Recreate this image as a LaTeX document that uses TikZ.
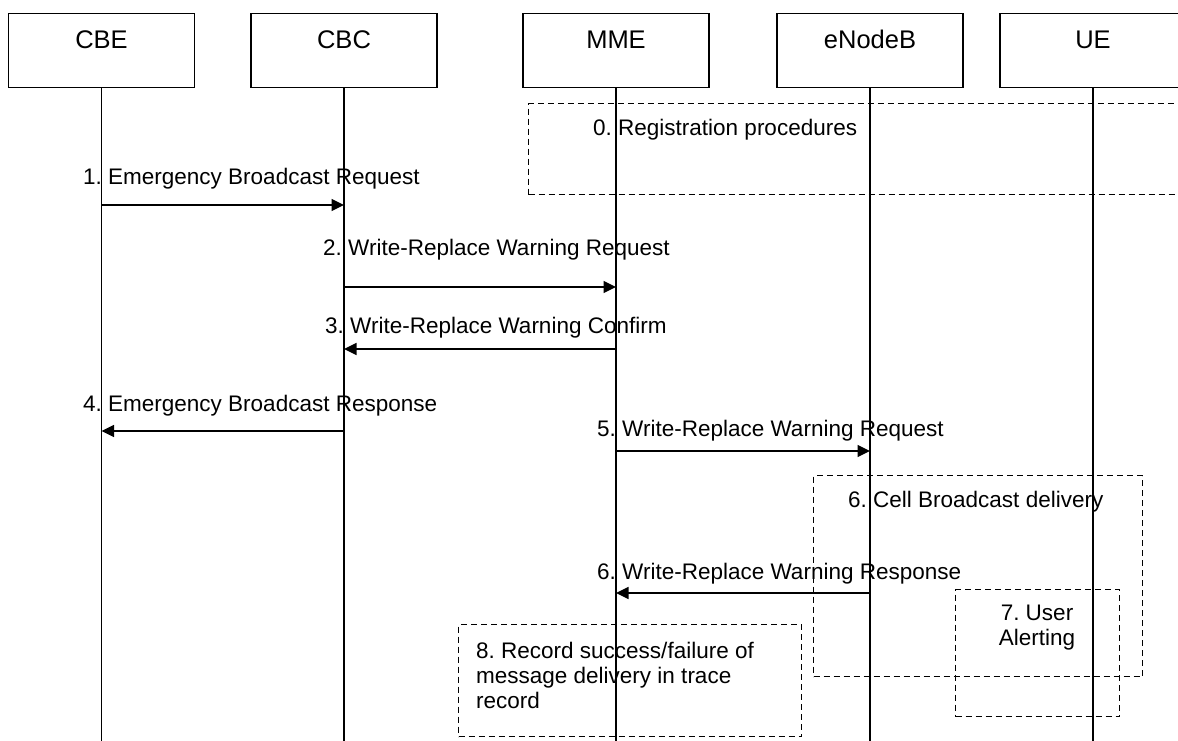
\documentclass[tikz,border=0pt]{standalone}
\usepackage{fontspec}
\setmainfont{Liberation Sans}
\usetikzlibrary{arrows.meta}
\frenchspacing
\begin{document}
\begin{tikzpicture}[x=1pt,y=-1pt,
  actor/.style={draw, line width=1.3pt, minimum width=186pt, inner sep=0pt,
    text height=35.3pt, text depth=38.7pt, font=\fontsize{25.5}{30}\selectfont, anchor=north},
  life/.style={line width=1.1pt},
  msg/.style={line width=1.4pt, -{Triangle[length=12.5pt,width=12pt]}},
  lbl/.style={inner sep=0pt, font=\fontsize{22.5}{25}\selectfont, anchor=base west},
  dbox/.style={draw, line width=1.3pt, dash pattern=on 6pt off 4pt, inner sep=0pt, anchor=north west}]
\useasboundingbox (0,0) rectangle (1178,740);
\clip (0,0) rectangle (1178,740);
% actors
\node[actor] (cbe) at (101.5,13) {CBE};
\node[actor] (cbc) at (344,13) {CBC};
\node[actor] (mme) at (616,13) {MME};
\node[actor] (enb) at (870,13) {eNodeB};
\node[actor] (ue) at (1093,13) {UE};
\coordinate (bot) at (0,741);
\foreach \a in {cbe,cbc,mme,enb,ue}{\draw[life] (\a.south) -- (\a.south |- bot);}
% dashed boxes
\node[dbox, minimum width=672pt, minimum height=91pt] (reg) at (528,103) {};
\node[lbl] (regt) at (593,135) {0. Registration procedures};
\node[dbox, minimum width=329pt, minimum height=201pt] (cbd) at (813,475) {};
\node[lbl] (cbdt) at (848,507) {6. Cell Broadcast delivery};
\node[dbox, minimum width=164pt, minimum height=127pt] (ua) at (955,589) {};
\node[lbl, anchor=base] (uat) at (1037,620) {\begin{tabular}[t]{@{}c@{}}7. User\\Alerting\end{tabular}};
\node[dbox, minimum width=343pt, minimum height=112pt] (rec) at (458,624) {};
\node[lbl] (rect) at (476,658) {\begin{tabular}[t]{@{}l@{}}8. Record success/failure of\\message delivery in trace\\record\end{tabular}};
% messages
\coordinate (m1) at (0,205);
\coordinate (m2) at (0,287);
\coordinate (m3) at (0,349);
\coordinate (m4) at (0,431);
\coordinate (m5) at (0,451);
\coordinate (m6) at (0,593);
\draw[msg] (cbe |- m1) -- (cbc |- m1);
\draw[msg] (cbc |- m2) -- (mme |- m2);
\draw[msg] (mme |- m3) -- (cbc |- m3);
\draw[msg] (cbc |- m4) -- (cbe |- m4);
\draw[msg] (mme |- m5) -- (enb |- m5);
\draw[msg] (enb |- m6) -- (mme |- m6);
\node[lbl] (l1) at (83,184.3) {1. Emergency Broadcast Request};
\node[lbl] (l2) at (323,255) {2. Write-Replace Warning Request};
\node[lbl] (l3) at (325,333) {3. Write-Replace Warning Confirm};
\node[lbl] (l4) at (83,411.7) {4. Emergency Broadcast Response};
\node[lbl] (l5) at (597,436) {5. Write-Replace Warning Request};
\node[lbl] (l6) at (597,579) {6. Write-Replace Warning Response};
\end{tikzpicture}
\end{document}
